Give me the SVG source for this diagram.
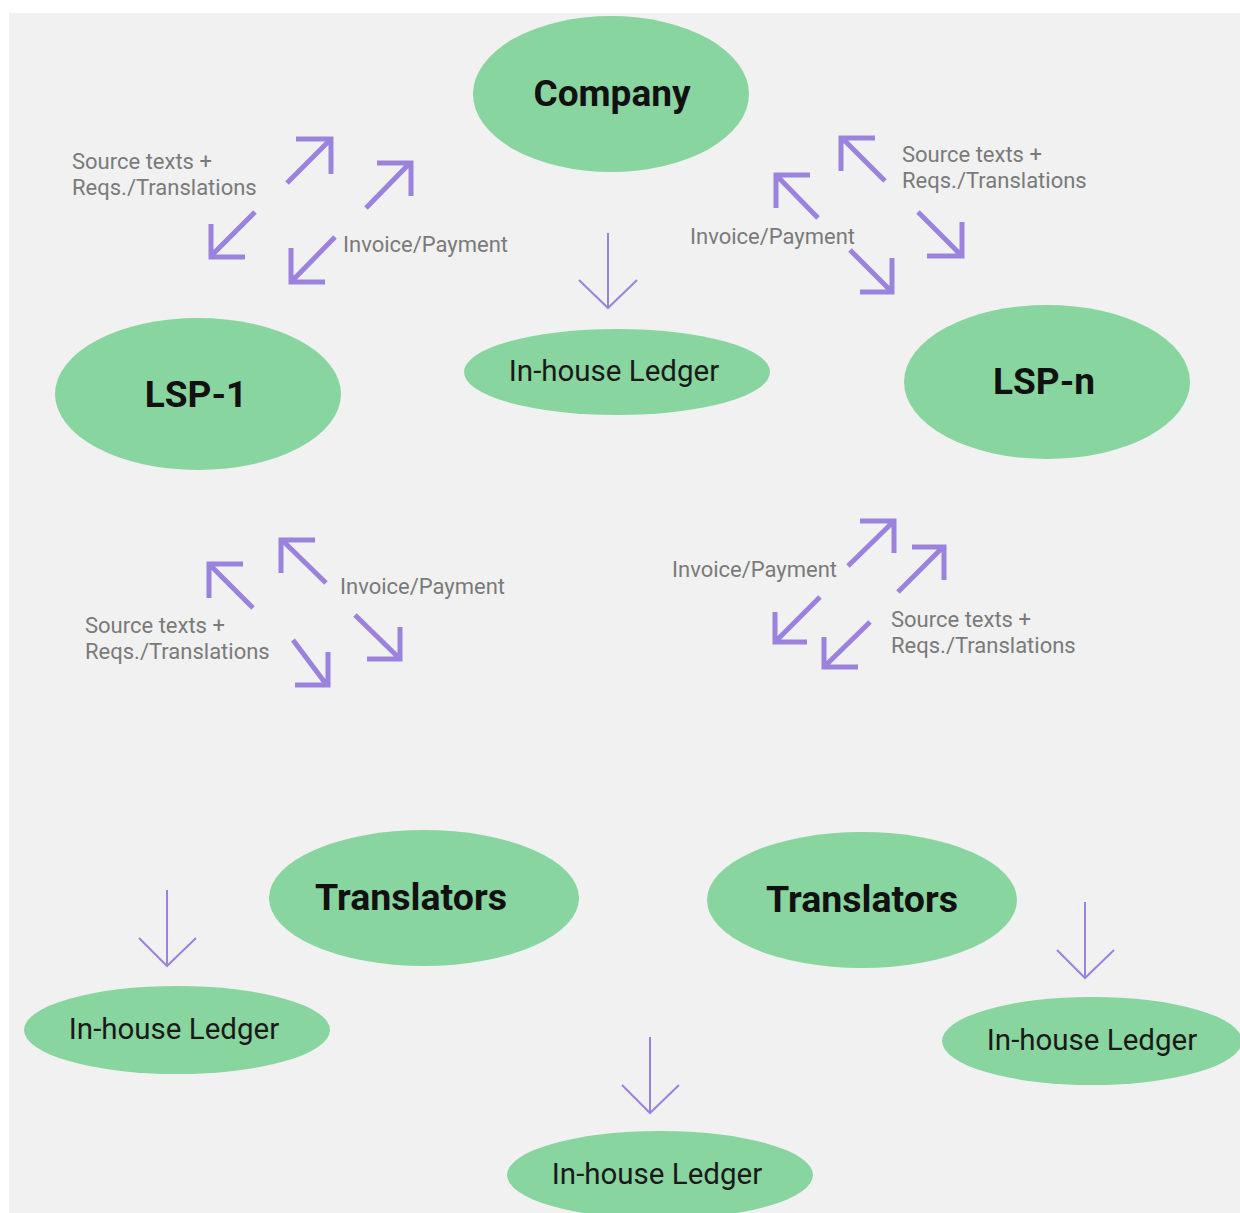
<svg xmlns="http://www.w3.org/2000/svg" width="1240" height="1213" viewBox="0 0 1240 1213">
<style>
.node{fill:#88d59f}
.t{font-family:Roboto,"Liberation Sans",sans-serif;text-anchor:middle;fill:#111}
.big{font-size:37px;font-weight:bold}
.led{font-size:29.5px;fill:#1a1a1a}
.lbl{font-family:Roboto,"Liberation Sans",sans-serif;font-size:22px;fill:#7a7a7a}
.thick{fill:none;stroke:#9b83dd;stroke-width:5;stroke-linecap:butt;stroke-linejoin:miter}
.thin{fill:none;stroke:#9b83dd;stroke-width:2}
</style>
<rect x="0" y="0" width="1240" height="1213" fill="#ffffff"/>
<rect x="9" y="13" width="1231" height="1200" fill="#f1f1f1"/>

<g id="company"><ellipse class="node" cx="611" cy="94" rx="138" ry="78"/><text class="t big" x="612" y="106">Company</text></g>
<g id="lsp1"><ellipse class="node" cx="198" cy="394" rx="143" ry="76"/><text class="t big" x="196" y="407">LSP-1</text></g>
<g id="lspn"><ellipse class="node" cx="1047" cy="382" rx="143" ry="77"/><text class="t big" x="1044" y="394">LSP-n</text></g>
<g id="ledger-company"><ellipse class="node" cx="617" cy="372" rx="153" ry="43"/><text class="t led" x="614" y="381">In-house Ledger</text></g>
<g id="translators-1"><ellipse class="node" cx="424" cy="898" rx="155" ry="68"/><text class="t big" x="411" y="910" style="font-size:37.5px">Translators</text></g>
<g id="translators-2"><ellipse class="node" cx="862" cy="900" rx="155" ry="68"/><text class="t big" x="862" y="912" style="font-size:37.5px">Translators</text></g>
<g id="ledger-lsp1"><ellipse class="node" cx="177" cy="1030" rx="153" ry="44"/><text class="t led" x="174" y="1039">In-house Ledger</text></g>
<g id="ledger-lspn"><ellipse class="node" cx="1092" cy="1041" rx="150" ry="44"/><text class="t led" x="1092" y="1050">In-house Ledger</text></g>
<g id="ledger-translators"><ellipse class="node" cx="660" cy="1175" rx="153" ry="44"/><text class="t led" x="657" y="1184">In-house Ledger</text></g>

<g id="connectors">
<!-- top-left group -->
<path class="thick" d="M287,183 L330,140 M296,139 H331 V174"/>
<path class="thick" d="M366,208 L409,164 M377,163 H411 V196"/>
<path class="thick" d="M255,212 L212,255 M211,224 V257 H245"/>
<path class="thick" d="M335,237 L293,280 M291,248 V282 H325"/>
<!-- top-right group -->
<path class="thick" d="M885,181 L843,139 M875,138 H841 V171"/>
<path class="thick" d="M818,218 L777,176 M810,175 H776 V208"/>
<path class="thick" d="M918,212 L960,254 M962,222 V256 H927"/>
<path class="thick" d="M850,250 L891,291 M892,258 V292 H860"/>
<!-- bottom-left group -->
<path class="thick" d="M253,608 L211,566 M243,564 H209 V598"/>
<path class="thick" d="M326,583 L283,541 M315,540 H281 V573"/>
<path class="thick" d="M293,640 L326,684 M328,652 V685 H295"/>
<path class="thick" d="M355,615 L398,657 M400,627 V659 H367"/>
<!-- bottom-right group -->
<path class="thick" d="M848,566 L893,522 M860,521 H894 V553"/>
<path class="thick" d="M898,592 L942,548 M912,547 H944 V580"/>
<path class="thick" d="M820,597 L777,640 M775,612 V642 H807"/>
<path class="thick" d="M870,622 L826,665 M824,637 V667 H858"/>
<!-- thin down arrows -->
<path class="thin" d="M608,233 V308 M579,280 L608,308 L637,280"/>
<path class="thin" d="M167,890 V966 M139,938 L167,966 L196,938"/>
<path class="thin" d="M1085,902 V978 M1057,950 L1085,978 L1114,950"/>
<path class="thin" d="M650,1037 V1113 M622,1085 L650,1113 L679,1085"/>
</g>

<g id="labels">
<text class="lbl" x="72" y="169">Source texts +</text>
<text class="lbl" x="72" y="195">Reqs./Translations</text>
<text class="lbl" x="343" y="252">Invoice/Payment</text>
<text class="lbl" x="902" y="162">Source texts +</text>
<text class="lbl" x="902" y="188">Reqs./Translations</text>
<text class="lbl" x="690" y="244">Invoice/Payment</text>
<text class="lbl" x="340" y="594">Invoice/Payment</text>
<text class="lbl" x="85" y="633">Source texts +</text>
<text class="lbl" x="85" y="659">Reqs./Translations</text>
<text class="lbl" x="672" y="577">Invoice/Payment</text>
<text class="lbl" x="891" y="627">Source texts +</text>
<text class="lbl" x="891" y="653">Reqs./Translations</text>
</g>
</svg>
